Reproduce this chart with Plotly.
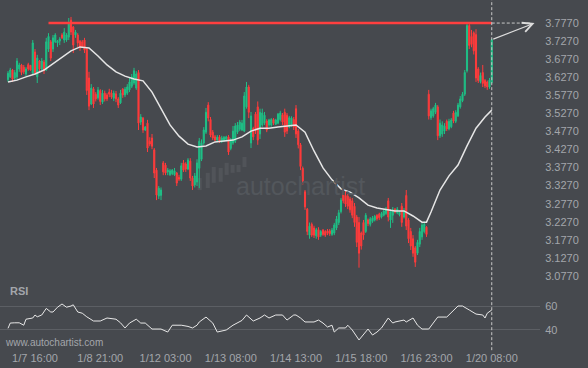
import plotly.graph_objects as go

# ---------------- data ----------------
open_ = [3.620,3.628,3.647,3.625,3.628,3.650,3.661,3.655,3.636,3.662,3.660,3.638,3.697,3.628,3.672,3.650,3.669,3.647,3.705,3.725,
         3.705,3.725,3.722,3.727,3.744,3.730,3.730,3.738,3.785,3.766,3.744,3.744,3.727,3.725,3.730,3.705,3.625,3.553,3.595,3.580,
         3.570,3.590,3.558,3.583,3.578,3.586,3.583,3.569,3.581,3.567,3.556,3.594,3.578,3.583,3.592,3.602,3.611,3.597,3.640,3.503,
         3.514,3.481,3.500,3.450,3.459,3.426,3.370,3.298,3.300,3.390,3.384,3.365,3.357,3.360,3.357,3.362,3.350,3.345,3.390,3.387,
         3.373,3.395,3.348,3.329,3.337,3.375,3.400,3.445,3.475,3.550,3.510,3.475,3.462,3.453,3.462,3.450,3.452,3.455,3.462,3.430,
         3.445,3.450,3.475,3.483,3.481,3.478,3.545,3.600,3.445,3.485,3.525,3.545,3.470,3.495,3.500,3.506,3.495,3.495,3.510,3.497,
         3.500,3.510,3.523,3.530,3.522,3.490,3.495,3.510,3.540,3.478,3.440,3.375,3.310,3.262,3.190,3.220,3.210,3.188,3.205,3.190,
         3.204,3.200,3.202,3.202,3.192,3.196,3.210,3.225,3.255,3.305,3.300,3.298,3.290,3.285,3.270,3.240,3.225,3.196,3.225,3.200,
         3.232,3.220,3.228,3.232,3.245,3.248,3.240,3.245,3.250,3.285,3.232,3.245,3.262,3.252,3.246,3.270,3.240,3.300,3.232,3.200,
         3.180,3.155,3.140,3.165,3.185,3.200,3.212,3.580,3.515,3.520,3.530,3.545,3.465,3.470,3.478,3.505,3.484,3.490,3.528,3.505,
         3.520,3.545,3.562,3.580,3.645,3.770,3.740,3.750,3.745,3.650,3.615,3.640,3.618,3.614,3.600,3.612]
high = [3.644,3.653,3.650,3.647,3.680,3.667,3.664,3.661,3.655,3.667,3.661,3.730,3.705,3.689,3.675,3.680,3.675,3.736,3.749,3.730,
        3.744,3.749,3.730,3.738,3.749,3.763,3.749,3.791,3.794,3.769,3.758,3.749,3.730,3.730,3.736,3.710,3.642,3.608,3.600,3.586,
        3.600,3.594,3.592,3.590,3.583,3.595,3.592,3.590,3.589,3.572,3.592,3.597,3.600,3.608,3.625,3.636,3.653,3.644,3.647,3.525,
        3.517,3.492,3.509,3.461,3.470,3.431,3.376,3.326,3.322,3.395,3.390,3.376,3.373,3.373,3.376,3.365,3.357,3.390,3.398,3.392,
        3.403,3.403,3.354,3.362,3.400,3.459,3.455,3.489,3.542,3.558,3.517,3.481,3.467,3.467,3.467,3.465,3.464,3.465,3.467,3.459,
        3.492,3.500,3.503,3.509,3.509,3.586,3.614,3.606,3.531,3.490,3.531,3.560,3.540,3.540,3.531,3.511,3.512,3.514,3.514,3.512,
        3.528,3.534,3.528,3.540,3.528,3.520,3.519,3.517,3.550,3.484,3.445,3.380,3.315,3.265,3.225,3.225,3.216,3.210,3.212,3.204,
        3.207,3.204,3.207,3.207,3.210,3.224,3.243,3.260,3.293,3.315,3.312,3.304,3.296,3.293,3.279,3.246,3.240,3.200,3.232,3.251,
        3.236,3.240,3.243,3.246,3.248,3.252,3.254,3.262,3.268,3.293,3.262,3.268,3.265,3.268,3.258,3.279,3.265,3.315,3.237,3.210,
        3.190,3.160,3.177,3.210,3.224,3.228,3.215,3.592,3.540,3.545,3.556,3.550,3.510,3.505,3.500,3.510,3.512,3.514,3.534,3.536,
        3.556,3.575,3.586,3.647,3.779,3.777,3.758,3.754,3.760,3.655,3.640,3.661,3.622,3.618,3.625,3.733]
low = [3.614,3.625,3.614,3.619,3.619,3.642,3.633,3.636,3.630,3.645,3.645,3.633,3.633,3.611,3.642,3.647,3.636,3.645,3.697,3.672,
       3.697,3.722,3.711,3.716,3.733,3.722,3.725,3.730,3.744,3.694,3.736,3.711,3.700,3.708,3.694,3.578,3.536,3.550,3.542,3.560,
       3.565,3.550,3.553,3.560,3.561,3.572,3.567,3.561,3.558,3.542,3.553,3.570,3.572,3.578,3.586,3.597,3.606,3.592,3.481,3.495,
       3.473,3.478,3.420,3.436,3.428,3.348,3.287,3.290,3.287,3.356,3.356,3.356,3.354,3.356,3.354,3.326,3.340,3.340,3.365,3.365,
       3.370,3.340,3.315,3.322,3.326,3.320,3.395,3.440,3.470,3.505,3.461,3.453,3.450,3.448,3.445,3.445,3.448,3.450,3.412,3.425,
       3.440,3.445,3.470,3.478,3.478,3.475,3.540,3.514,3.431,3.453,3.470,3.440,3.456,3.490,3.495,3.475,3.490,3.490,3.495,3.495,
       3.497,3.505,3.495,3.462,3.470,3.486,3.490,3.481,3.459,3.430,3.370,3.330,3.260,3.190,3.180,3.185,3.182,3.180,3.177,3.185,
       3.188,3.185,3.190,3.188,3.188,3.190,3.204,3.218,3.250,3.278,3.268,3.262,3.252,3.237,3.213,3.157,3.100,3.150,3.177,3.196,
       3.215,3.214,3.224,3.228,3.230,3.232,3.236,3.242,3.246,3.228,3.210,3.224,3.250,3.248,3.242,3.213,3.236,3.204,3.168,3.149,
       3.130,3.102,3.135,3.157,3.177,3.195,3.185,3.510,3.509,3.515,3.525,3.453,3.459,3.462,3.470,3.478,3.480,3.486,3.500,3.500,
       3.517,3.540,3.558,3.575,3.640,3.705,3.710,3.690,3.614,3.611,3.610,3.600,3.597,3.592,3.595,3.610]
close = [3.638,3.647,3.622,3.640,3.672,3.661,3.640,3.642,3.650,3.650,3.647,3.722,3.640,3.680,3.650,3.672,3.645,3.725,3.740,3.680,
         3.736,3.744,3.727,3.733,3.736,3.752,3.744,3.775,3.752,3.716,3.752,3.722,3.708,3.711,3.702,3.590,3.547,3.597,3.553,3.567,
         3.592,3.560,3.583,3.567,3.567,3.580,3.572,3.583,3.567,3.550,3.583,3.578,3.594,3.600,3.614,3.628,3.645,3.636,3.500,3.517,
         3.481,3.489,3.431,3.442,3.436,3.362,3.301,3.320,3.315,3.365,3.362,3.370,3.368,3.370,3.368,3.334,3.345,3.382,3.370,3.373,
         3.398,3.348,3.326,3.354,3.390,3.450,3.445,3.481,3.530,3.514,3.467,3.459,3.453,3.461,3.450,3.459,3.461,3.462,3.420,3.453,
         3.478,3.492,3.495,3.503,3.500,3.575,3.600,3.530,3.520,3.462,3.480,3.453,3.530,3.528,3.522,3.481,3.509,3.510,3.500,3.509,
         3.525,3.528,3.503,3.475,3.478,3.515,3.514,3.489,3.470,3.440,3.380,3.340,3.268,3.200,3.215,3.190,3.190,3.205,3.185,3.200,
         3.192,3.190,3.195,3.194,3.204,3.218,3.235,3.252,3.287,3.285,3.276,3.270,3.260,3.245,3.225,3.170,3.140,3.160,3.190,3.245,
         3.222,3.235,3.238,3.242,3.235,3.238,3.250,3.257,3.262,3.240,3.255,3.260,3.254,3.262,3.254,3.225,3.257,3.215,3.180,3.160,
         3.140,3.115,3.170,3.200,3.218,3.220,3.192,3.520,3.534,3.540,3.550,3.465,3.500,3.495,3.492,3.484,3.505,3.509,3.506,3.530,
         3.550,3.567,3.580,3.640,3.770,3.715,3.718,3.700,3.625,3.618,3.632,3.610,3.603,3.600,3.619,3.731]

ma_idx = [0,4,8,12,16,20,24,28,32,36,40,44,48,52,56,60,64,68,72,76,80,84,88,92,96,100,104,108,112,116,120,124,128,
          132,136,140,144,148,152,156,160,164,168,172,176,180,184,186,188,192,196,200,204,208,212,215]
ma_val = [3.614,3.619,3.628,3.636,3.647,3.664,3.683,3.700,3.711,3.708,3.686,3.661,3.642,3.630,3.622,3.617,3.586,3.542,
          3.495,3.464,3.442,3.434,3.437,3.448,3.450,3.453,3.462,3.478,3.486,3.486,3.489,3.492,3.495,3.475,3.423,3.376,3.343,
          3.318,3.309,3.293,3.273,3.265,3.260,3.257,3.257,3.243,3.226,3.226,3.254,3.315,3.354,3.384,3.437,3.486,3.517,3.536]

rsi_idx = [0,1,3,5,7,8,11,12,13,15,17,19,20,22,24,26,28,29,31,33,35,38,41,44,48,50,52,54,57,59,61,64,68,71,73,77,80,82,
           84,85,88,91,93,95,97,100,102,104,106,109,112,114,116,119,122,124,127,128,130,132,136,138,140,142,144,145,147,
           150,151,153,156,160,162,164,166,169,171,172,176,177,180,181,182,184,187,191,195,200,202,205,208,211,212,213,215]
rsi_val = [41.4,45.8,46.0,46.0,44.0,49.0,50.0,52.5,51.0,52.5,58.0,55.0,55.0,59.0,61.7,59.0,60.0,61.0,55.0,54.0,51.0,47.5,
           47.5,50.0,49.0,46.0,41.7,45.8,49.0,45.8,45.8,40.8,40.8,38.3,44.0,44.0,43.0,41.7,44.0,46.7,50.8,45.8,38.3,39.0,
           40.0,44.0,45.8,48.0,52.5,47.5,50.0,52.5,50.0,52.5,52.5,48.3,52.5,52.5,50.0,46.7,46.7,48.3,45.8,42.5,44.0,38.3,
           41.7,41.7,44.0,40.0,31.7,40.8,35.8,38.3,41.7,50.0,45.8,46.7,48.3,46.7,50.0,46.7,44.0,40.8,40.8,50.8,50.8,60.0,
           60.0,56.7,53.3,52.5,50.0,54.0,56.7]

time_tick_idx = [12, 41, 70, 99, 128, 157, 186, 215]
time_tick_text = ["1/7 16:00", "1/8 21:00", "1/12 03:00", "1/13 08:00", "1/14 13:00", "1/15 18:00", "1/16 23:00", "1/20 08:00"]
price_ticks = [3.0770, 3.1270, 3.1770, 3.2270, 3.2770, 3.3270, 3.3770, 3.4270, 3.4770, 3.5270, 3.5770, 3.6270,
               3.6770, 3.7270, 3.7770, 3.8270]
rsi_ticks = [40, 60]

resistance_level = 3.7770
resistance_start_idx = 18
forecast_end_idx = 234
dash_end_idx = 232

# ---------------- figure ----------------
BG = "#46494e"
TXT = "#a3a6ab"
FONT = "Liberation Sans"
x = list(range(len(close)))
last = x[-1]

fig = go.Figure()
fig.add_trace(go.Candlestick(
    x=x, open=open_, high=high, low=low, close=close,
    increasing=dict(line=dict(color="#1fbf86", width=1), fillcolor="#1fbf86"),
    decreasing=dict(line=dict(color="#ff3b3b", width=1), fillcolor="#ff3b3b"),
    whiskerwidth=0, xaxis="x", yaxis="y", showlegend=False, hoverinfo="skip"))
fig.add_trace(go.Scatter(x=ma_idx, y=ma_val, mode="lines",
                         line=dict(color="#e6e6e6", width=1.5), xaxis="x", yaxis="y",
                         showlegend=False, hoverinfo="skip"))
fig.add_trace(go.Scatter(x=[resistance_start_idx, last], y=[resistance_level, resistance_level], mode="lines",
                         line=dict(color="#ff3f3f", width=2.5), xaxis="x", yaxis="y",
                         showlegend=False, hoverinfo="skip"))
fig.add_trace(go.Scatter(x=[last, dash_end_idx], y=[resistance_level, resistance_level], mode="lines",
                         line=dict(color="#c8c8c8", width=1, dash="3px,2px"), xaxis="x", yaxis="y",
                         showlegend=False, hoverinfo="skip"))
fig.add_trace(go.Scatter(x=rsi_idx, y=rsi_val, mode="lines",
                         line=dict(color="#e8e8e8", width=1), xaxis="x", yaxis="y2",
                         showlegend=False, hoverinfo="skip"))

fig.add_annotation(x=forecast_end_idx, y=resistance_level, ax=last, ay=close[-1],
                   xref="x", yref="y", axref="x", ayref="y", text="", showarrow=True,
                   arrowhead=5, arrowsize=1.6, arrowwidth=1.2, arrowcolor="#dcdcdc")

# vertical dashed line at the last bar
fig.add_shape(type="line", xref="x", yref="paper", x0=last, x1=last, y0=-0.015, y1=1,
              line=dict(color="#c8c8c8", width=1, dash="3px,2px"))

# watermark icon (faint bars), paper coordinates
wm_bars = [(0.366, 0.449, 0.484), (0.381, 0.455, 0.499), (0.392, 0.470, 0.516), (0.405, 0.473, 0.513),
           (0.416, 0.493, 0.528), (0.427, 0.499, 0.522), (0.438, 0.501, 0.522), (0.449, 0.516, 0.545)]
for bx, b0, b1 in wm_bars:
    fig.add_shape(type="rect", xref="paper", yref="paper", x0=bx, x1=bx + 0.0075, y0=b0, y1=b1,
                  line=dict(width=0), fillcolor="#515459", layer="below")

# texts
fig.add_annotation(xref="paper", yref="paper", x=0.015, y=0.157, xanchor="left", yanchor="middle",
                   text="<b>RSI</b>", showarrow=False, font=dict(family=FONT, size=11, color=TXT))
fig.add_annotation(xref="paper", yref="paper", x=0.006, y=0.006, xanchor="left", yanchor="middle",
                   text="www.autochartist.com", showarrow=False, font=dict(family=FONT, size=10, color=TXT))
fig.add_annotation(xref="paper", yref="paper", x=0.556, y=0.462, xanchor="center", yanchor="middle",
                   text="autochartist", showarrow=False, font=dict(family=FONT, size=25, color="#53575c"))

fig.update_layout(
    width=588, height=368, paper_bgcolor=BG, plot_bgcolor=BG,
    margin=dict(l=0, r=48, t=0, b=23),
    showlegend=False,
    xaxis=dict(range=[-3.56, 236.44], showgrid=False, zeroline=False, showline=False,
               tickmode="array", tickvals=time_tick_idx, ticktext=time_tick_text,
               tickfont=dict(family=FONT, size=11, color=TXT), ticks="outside", ticklen=3,
               tickcolor=BG, anchor="y2", automargin=False,
               rangeslider=dict(visible=False), fixedrange=True),
    yaxis=dict(domain=[0.1739, 1], range=[3.0520, 3.8408], side="right", showgrid=False,
               zeroline=False, showline=False, tickmode="array", tickvals=price_ticks,
               ticktext=[f"{v:.4f}" for v in price_ticks], ticks="outside", ticklen=2, tickcolor=BG,
               automargin=False, tickfont=dict(family=FONT, size=11, color=TXT), anchor="x"),
    yaxis2=dict(domain=[0, 0.1449], range=[27.5, 69.17], side="right", showgrid=True,
                gridcolor="#5c5f64", gridwidth=1, zeroline=False, showline=False,
                tickmode="array", tickvals=rsi_ticks, ticks="outside", ticklen=2, tickcolor=BG,
                automargin=False, tickfont=dict(family=FONT, size=11, color=TXT), anchor="x"),
)

fig.write_html("out.html", config={"displayModeBar": False},
               post_script="document.body.style.margin='0';document.body.style.overflow='hidden';")
